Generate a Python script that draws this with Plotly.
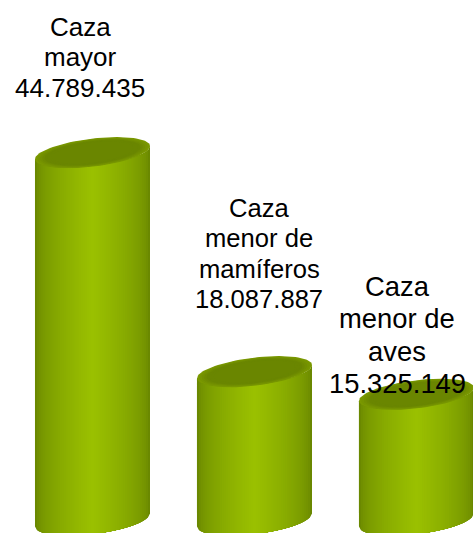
import numpy as np
import plotly.graph_objects as go

categories = [["Caza", "mayor"], ["Caza", "menor de", "mamíferos"], ["Caza", "menor de", "aves"]]
values = [44789435, 18087887, 15325149]
value_labels = ["44.789.435", "18.087.887", "15.325.149"]

W, H = 473, 533
BAR_W = 0.71
TILT = 0.8e6
CAP_B = 1.72e6
x_pos = list(range(len(values)))

# label placement in pixels: centre x, first baseline, line pitch, font size
label_cx = [80, 259, 397]
label_base = [36, 216, 296]
label_pitch = [30.5, 30.6, 32.2]
label_size = [26, 25.6, 27.4]


def mix(c1, c2, t):
    return "rgb(%d,%d,%d)" % tuple(round(a + (b - a) * t) for a, b in zip(c1, c2))


EDGE = (106, 136, 0)
MID = (154, 192, 0)
CAP_EDGE = (122, 152, 0)
CAP_MID = (106, 134, 0)

fig = go.Figure()
inner_h = [v - 2 * TILT for v in values]
fig.add_bar(x=x_pos, y=inner_h, base=TILT, width=BAR_W,
            marker=dict(color=mix(EDGE, EDGE, 0), line_width=0), hoverinfo="skip")

LAYERS = 30
for cx, v in zip(x_pos, values):
    for i in range(LAYERS):
        k = 1 - i / LAYERS
        u = np.linspace(-k, k, 60)
        top = v + TILT * u - CAP_B * np.sqrt(1 - u ** 2)
        bot = TILT * u - CAP_B * np.sqrt(1 - u ** 2)
        xs = cx + u * BAR_W / 2
        fig.add_scatter(
            x=np.r_[xs, xs[::-1]], y=np.r_[top, bot[::-1]],
            mode="lines", line_width=0, fill="toself",
            fillcolor=mix(EDGE, MID, min(1, (i / (LAYERS - 1)) ** 0.6)),
            hoverinfo="skip",
        )
    for i in range(8):
        k = 1 - i / 24
        t = np.linspace(0, 2 * np.pi, 90)
        xs = cx + k * np.cos(t) * BAR_W / 2
        ys = v + k * (TILT * np.cos(t) + CAP_B * np.sin(t))
        fig.add_scatter(
            x=xs, y=ys, mode="lines", line_width=0, fill="toself",
            fillcolor=mix(CAP_EDGE, CAP_MID, min(1, i / 4)), hoverinfo="skip",
        )

fig.add_bar(
    x=x_pos, y=inner_h, base=TILT, width=BAR_W, hoverinfo="skip",
    marker=dict(color="rgba(0,0,0,0)", line_width=0,
                pattern=dict(shape=".", size=3, solidity=0.5, fgcolor="rgba(60,80,0,0.28)", bgcolor="rgba(0,0,0,0)")),
)

for name, lab, cx, b0, pitch, size in zip(categories, value_labels, label_cx, label_base, label_pitch, label_size):
    for j, line in enumerate(name + [lab]):
        base_y = b0 + j * pitch
        fig.add_annotation(
            x=cx / W, y=1 - base_y / H, xref="paper", yref="paper",
            xanchor="center", yanchor="bottom", yshift=-0.26 * size,
            text=line, showarrow=False, borderpad=0,
            font=dict(family="Liberation Sans, Arial", size=size, color="black"),
        )

fig.update_layout(
    width=W, height=H, margin=dict(l=0, r=0, t=0, b=0), showlegend=False,
    paper_bgcolor="white", plot_bgcolor="white", barmode="overlay",
    xaxis=dict(range=[-0.571, 2.349], visible=False, fixedrange=True),
    yaxis=dict(range=[-1.585e6, 63.4e6], visible=False, fixedrange=True),
)
fig.write_html("out.html", config=dict(displayModeBar=False),
               post_script="document.body.style.margin='0';")
